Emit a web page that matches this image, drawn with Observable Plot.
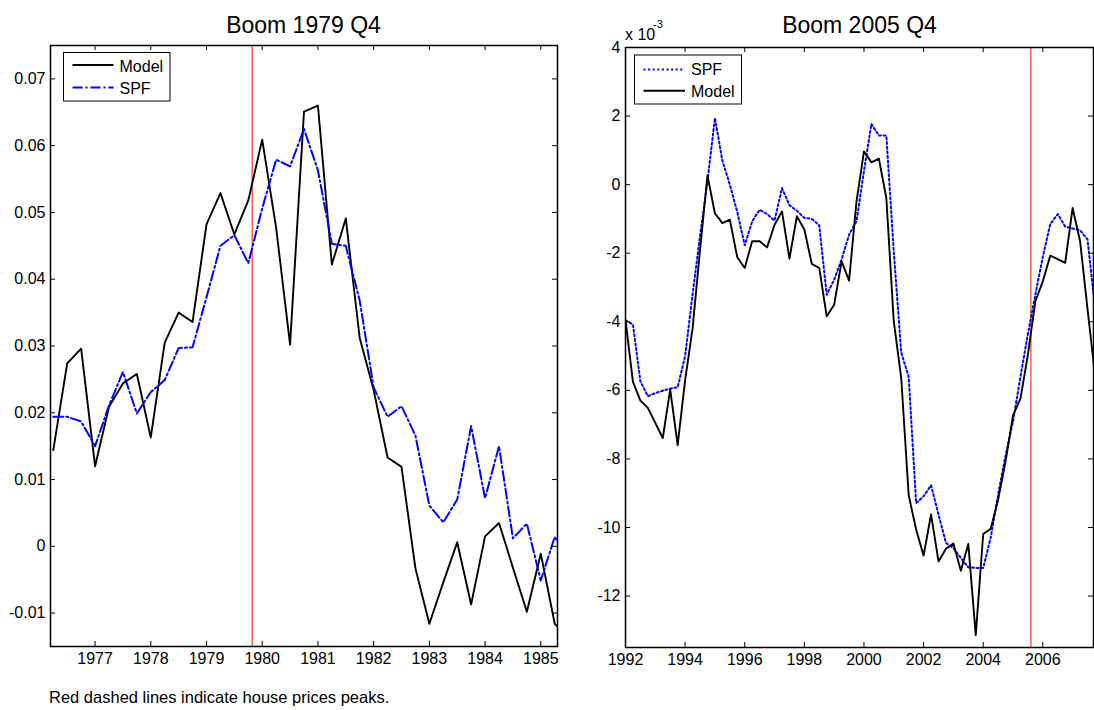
<!DOCTYPE html>
<html>
<head>
<meta charset="utf-8">
<script src="https://cdn.jsdelivr.net/npm/d3@7"></script>
<script src="https://cdn.jsdelivr.net/npm/@observablehq/plot@0.6"></script>
<style>
  body { margin: 0; background: #fff; font-family: "Liberation Sans", Arial, sans-serif; }
  #wrap { position: relative; width: 1094px; height: 710px; overflow: hidden; background: #fff; }
  #wrap svg { position: absolute; }
</style>
</head>
<body>
<div id="wrap"></div>
<script>
// ---------- Data: Boom 1979 Q4 (quarterly, starting 1976.25) ----------
const leftStart = 1976.25;
const leftModel = [
  0.0144, 0.0274, 0.0296, 0.0120, 0.0209, 0.0244, 0.0258, 0.0163,
  0.0305, 0.0350, 0.0336, 0.0482, 0.0529, 0.0467, 0.0518, 0.0609,
  0.0477, 0.0302, 0.0651, 0.0660, 0.0422, 0.0491, 0.0312, 0.0234,
  0.0133, 0.0119, -0.0033, -0.0116, -0.0054, 0.0006, -0.0087, 0.0015,
  0.0035, -0.0032, -0.0098, -0.0011, -0.0116, -0.0137
];
const leftSPF = [
  0.0194, 0.0194, 0.0187, 0.0150, 0.0211, 0.0261, 0.0199, 0.0231,
  0.0249, 0.0297, 0.0298, 0.0373, 0.0450, 0.0466, 0.0424, 0.0506,
  0.0579, 0.0569, 0.0625, 0.0563, 0.0453, 0.0450, 0.0368, 0.0238,
  0.0194, 0.0210, 0.0166, 0.0061, 0.0036, 0.0070, 0.0180, 0.0072,
  0.0150, 0.0012, 0.0034, -0.0051, 0.0014, -0.0020
];
const leftPeak = [1979.82];
const leftXTicks = [1977, 1978, 1979, 1980, 1981, 1982, 1983, 1984, 1985];
const leftYTicks = [-0.01, 0, 0.01, 0.02, 0.03, 0.04, 0.05, 0.06, 0.07];

// ---------- Data: Boom 2005 Q4 (quarterly, starting 1992.0, units of 1e-3) ----------
const rightStart = 1992.0;
const rightModel = [
  -3.95, -5.75, -6.30, -6.51, -6.95, -7.39, -5.98, -7.60,
  -5.70, -4.20, -1.90, 0.27, -0.84, -1.12, -1.02, -2.12,
  -2.43, -1.65, -1.65, -1.83, -1.17, -0.78, -2.16, -0.92,
  -1.31, -2.31, -2.43, -3.84, -3.50, -2.24, -2.80, -0.49,
  0.97, 0.65, 0.76, -0.39, -3.99, -5.64, -9.06, -10.06,
  -10.82, -9.62, -10.99, -10.62, -10.47, -11.26, -10.48, -13.14,
  -10.19, -10.04, -9.19, -8.07, -6.73, -6.24, -4.96, -3.40,
  -2.82, -2.07, -2.17, -2.28, -0.68, -1.65, -3.63, -5.55
];
const rightSPF = [
  -3.96, -4.08, -5.74, -6.17, -6.08, -6.01, -5.95, -5.91,
  -5.00, -3.20, -1.50, 0.10, 1.94, 0.70, 0.00, -0.80,
  -1.77, -1.07, -0.73, -0.86, -1.05, -0.10, -0.60, -0.76,
  -0.97, -1.00, -1.19, -3.21, -2.77, -2.18, -1.46, -1.07,
  0.40, 1.77, 1.43, 1.43, -1.95, -4.90, -5.60, -9.29,
  -9.09, -8.77, -9.62, -10.45, -10.60, -10.89, -11.16, -11.18,
  -11.18, -10.30, -9.04, -7.90, -6.90, -5.60, -4.35, -3.20,
  -2.10, -1.15, -0.86, -1.22, -1.28, -1.33, -1.60, -3.60
];
const rightPeak = [2005.6];
const rightXTicks = [1992, 1994, 1996, 1998, 2000, 2002, 2004, 2006];
const rightYTicks = [-12, -10, -8, -6, -4, -2, 0, 2, 4];

const FONT = '"Liberation Sans", Arial, Helvetica, sans-serif';
const RED = "#e8401c";

function panel(o) {
  const rows = o.model.map((m, i) => ({t: o.start + 0.25 * i, model: m, spf: o.spf[i]}));
  const innerH = o.height - o.mt - o.mb;
  const innerW = o.width - o.ml - o.mr;
  const spfMark = Plot.line(rows, {x: "t", y: "spf", stroke: "#0000ff", strokeWidth: 2,
    strokeDasharray: o.spfDash, clip: true});
  const modelMark = Plot.line(rows, {x: "t", y: "model", stroke: "#000", strokeWidth: 1.9, clip: true});
  const svg = Plot.plot({
    width: o.width, height: o.height,
    marginLeft: o.ml, marginRight: o.mr, marginTop: o.mt, marginBottom: o.mb,
    x: {domain: o.xDomain, label: null},
    y: {domain: o.yDomain, label: null},
    style: {fontFamily: FONT, fontSize: "16px", color: "#000", background: "transparent", overflow: "visible"},
    marks: [
      Plot.ruleX(o.peaks, {x: d => d, stroke: RED, strokeWidth: 1.2}),
      ...(o.modelOnTop ? [spfMark, modelMark] : [modelMark, spfMark]),
      Plot.axisX(o.xTicks, {tickSize: 0, tickPadding: 6, tickFormat: d => String(d), fontSize: 16, label: null}),
      Plot.axisY(o.yTicks, {tickSize: 0, tickPadding: 5, tickFormat: o.yFmt, fontSize: 16, label: null}),
      Plot.tickX(o.xTicks, {x: d => d, insetTop: innerH - 5, stroke: "#000"}),
      Plot.tickX(o.xTicks, {x: d => d, insetBottom: innerH - 5, stroke: "#000"}),
      Plot.tickY(o.yTicks, {y: d => d, insetRight: innerW - 5, stroke: "#000"}),
      Plot.tickY(o.yTicks, {y: d => d, insetLeft: innerW - 5, stroke: "#000"}),
      Plot.frame({stroke: "#000", strokeWidth: 1.5})
    ]
  });
  svg.style.left = o.left + "px";
  svg.style.top = "0px";
  return svg;
}

const wrap = document.getElementById("wrap");

wrap.appendChild(panel({
  start: leftStart, model: leftModel, spf: leftSPF, peaks: leftPeak,
  xDomain: [1976.2, 1985.3], yDomain: [-0.015, 0.075],
  xTicks: leftXTicks, yTicks: leftYTicks,
  yFmt: d => d === 0 ? "0" : d.toFixed(2),
  width: 580, height: 680, ml: 50, mr: 23, mt: 45, mb: 34, left: 0,
  spfDash: "10,3,2,3", modelOnTop: false
}));

wrap.appendChild(panel({
  start: rightStart, model: rightModel, spf: rightSPF, peaks: rightPeak,
  xDomain: [1992, 2007.7], yDomain: [-13.5, 4],
  xTicks: rightXTicks, yTicks: rightYTicks,
  yFmt: d => String(d),
  width: 514, height: 680, ml: 45, mr: 1, mt: 47, mb: 33, left: 580,
  spfDash: "2,2.6", modelOnTop: true
}));

// ---------- Overlay: titles, legends, exponent, caption ----------
const NS = "http://www.w3.org/2000/svg";
const ov = document.createElementNS(NS, "svg");
ov.setAttribute("width", 1094);
ov.setAttribute("height", 710);
ov.style.left = "0px"; ov.style.top = "0px";
ov.style.fontFamily = FONT;
ov.style.pointerEvents = "none";
function el(tag, attrs, text) {
  const e = document.createElementNS(NS, tag);
  for (const k in attrs) e.setAttribute(k, attrs[k]);
  if (text != null) e.textContent = text;
  ov.appendChild(e);
  return e;
}
// titles
el("text", {x: 303.5, y: 33, "text-anchor": "middle", "font-size": 23, fill: "#000"}, "Boom 1979 Q4");
el("text", {x: 859.5, y: 33, "text-anchor": "middle", "font-size": 23, fill: "#000"}, "Boom 2005 Q4");
// exponent label
el("text", {x: 625, y: 40, "font-size": 16, fill: "#000"}, "x 10");
el("text", {x: 653, y: 27.5, "font-size": 11, fill: "#000"}, "-3");
// left legend
el("rect", {x: 63.5, y: 52.5, width: 106.5, height: 48.5, fill: "#fff", stroke: "#000", "stroke-width": 1});
el("line", {x1: 72.5, x2: 113.5, y1: 65, y2: 65, stroke: "#000", "stroke-width": 1.9});
el("text", {x: 119.5, y: 72, "font-size": 16, fill: "#000"}, "Model");
el("line", {x1: 72.5, x2: 113.5, y1: 87.5, y2: 87.5, stroke: "#0000ff", "stroke-width": 2, "stroke-dasharray": "10,3,2,3"});
el("text", {x: 119.5, y: 94.3, "font-size": 16, fill: "#000"}, "SPF");
// right legend
el("rect", {x: 634.5, y: 55, width: 107, height: 49, fill: "#fff", stroke: "#000", "stroke-width": 1});
el("line", {x1: 643.5, x2: 685, y1: 69.5, y2: 69.5, stroke: "#0000ff", "stroke-width": 2, "stroke-dasharray": "2,2.6"});
el("text", {x: 691, y: 75, "font-size": 16, fill: "#000"}, "SPF");
el("line", {x1: 643.5, x2: 685, y1: 90.7, y2: 90.7, stroke: "#000", "stroke-width": 1.9});
el("text", {x: 691, y: 96.5, "font-size": 16, fill: "#000"}, "Model");
// caption
el("text", {x: 49, y: 703, "font-size": 16.5, fill: "#000"}, "Red dashed lines indicate house prices peaks.");
wrap.appendChild(ov);
</script>
</body>
</html>
